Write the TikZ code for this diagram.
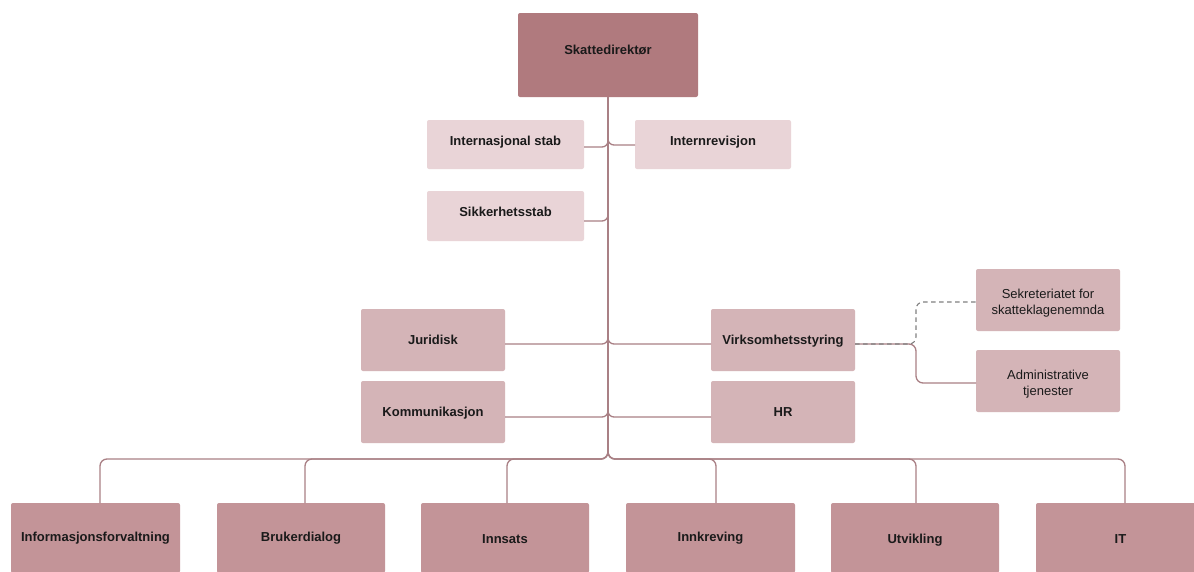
\documentclass[tikz,border=0pt]{standalone}
\usepackage{fontspec}
\setmainfont{Liberation Sans}
\definecolor{cdir}{HTML}{B07A7E}
\definecolor{clight}{HTML}{E9D4D7}
\definecolor{cmid}{HTML}{D4B4B7}
\definecolor{cdiv}{HTML}{C39498}
\definecolor{cline}{HTML}{A98085}
\definecolor{cdash}{HTML}{808080}
\definecolor{ctext}{HTML}{1A1A1A}
\newcommand\lift[2]{\raisebox{#1}[\height][\depth]{#2}}
\begin{document}
\begin{tikzpicture}[x=1pt,y=-1pt,
  box/.style={rectangle, rounded corners=2pt, inner sep=0pt, outer sep=0pt,
    font=\fontsize{13}{16}\selectfont\bfseries, text=ctext, align=center,
    text height=9.3pt, text depth=0pt},
  dirbox/.style={box, fill=cdir, minimum width=180pt, minimum height=84pt},
  staffbox/.style={box, fill=clight, minimum width=157pt, minimum height=49pt},
  unitbox/.style={box, fill=cmid, minimum width=144pt, minimum height=62pt},
  subbox/.style={rectangle, rounded corners=2pt, inner sep=0pt, outer sep=0pt,
    font=\fontsize{13}{16}\selectfont, text=ctext, align=center,
    fill=cmid, minimum width=144pt, minimum height=62pt},
  divbox/.style={box, fill=cdiv, minimum width=169pt, minimum height=70pt},
  conn/.style={draw=cline, line width=1.3pt, rounded corners=6pt},
  dashconn/.style={draw=cdash, line width=1.1pt, dash pattern=on 4.5pt off 3.5pt, rounded corners=6pt}
]
\useasboundingbox (0,0) rectangle (1194,571);
\fill[white] (0,0) rectangle (1194,571);

% boxes
\node[dirbox] (sd) at (608,55) {\lift{5pt}{Skattedirektør}};
\node[staffbox] (is) at (505.5,144.5) {\lift{4pt}{Internasjonal stab}};
\node[staffbox, minimum width=156pt] (ir) at (713,144.5) {\lift{4pt}{Internrevisjon}};
\node[staffbox, minimum height=50pt] (ss) at (505.5,216) {\lift{4pt}{Sikkerhetsstab}};
\node[unitbox] (jur) at (433,340) {Juridisk};
\node[unitbox] (kom) at (433,412) {Kommunikasjon};
\node[unitbox] (vs) at (783,340) {Virksomhetsstyring};
\node[unitbox] (hr) at (783,412) {HR};
\node[subbox] (sek) at (1048,300) {\lift{-3pt}{\begin{tabular}{@{}c@{}}Sekreteriatet for\\skatteklagenemnda\end{tabular}}};
\node[subbox] (adm) at (1048,381) {\lift{-3pt}{\begin{tabular}{@{}c@{}}Administrative\\tjenester\end{tabular}}};
\node[divbox] (b1) at (95.5,538) {\lift{1pt}{Informasjonsforvaltning}};
\node[divbox, minimum width=168pt] (b2) at (301,538) {\lift{1pt}{Brukerdialog}};
\node[divbox, minimum width=168pt] (b3) at (505,538) {\lift{-1pt}{Innsats}};
\node[divbox] (b4) at (710.5,538) {\lift{1pt}{Innkreving}};
\node[divbox, minimum width=168pt] (b5) at (915,538) {\lift{-1pt}{Utvikling}};
\node[divbox] (b6) at (1120.5,538) {\lift{-1pt}{IT}};

% connectors
\coordinate (bus) at (608,459);
\coordinate (fk) at (916,344);
\draw[conn] ([yshift=-2.5pt]is.east) -| (sd.south);
\draw[conn] ([yshift=-0.5pt]ir.west) -| (sd.south);
\draw[conn] ([yshift=-5pt]ss.east) -| (sd.south);
\draw[conn] ([yshift=-4pt]jur.east) -| (sd.south);
\draw[conn] ([yshift=-4pt]vs.west) -| (sd.south);
\draw[conn] ([yshift=-5pt]kom.east) -| (sd.south);
\draw[conn] ([yshift=-5pt]hr.west) -| (sd.south);
\draw[conn, rounded corners=7pt] (sd.south) -- (bus) -| ([xshift=4.5pt]b1.north);
\draw[conn, rounded corners=7pt] (sd.south) -- (bus) -| ([xshift=4pt]b2.north);
\draw[conn, rounded corners=7pt] (sd.south) -- (bus) -| ([xshift=2pt]b3.north);
\draw[conn, rounded corners=7pt] (sd.south) -- (bus) -| ([xshift=5.5pt]b4.north);
\draw[conn, rounded corners=7pt] (sd.south) -- (bus) -| ([xshift=1pt]b5.north);
\draw[conn, rounded corners=7pt] (sd.south) -- (bus) -| ([xshift=4.5pt]b6.north);
\draw[conn, rounded corners=7pt] ([yshift=-4pt]vs.east) -- (fk) |- ([yshift=-2pt]adm.west);
\draw[dashconn, rounded corners=7pt] ([yshift=-4pt]vs.east) -- (fk) |- ([yshift=-2pt]sek.west);
\end{tikzpicture}
\end{document}
